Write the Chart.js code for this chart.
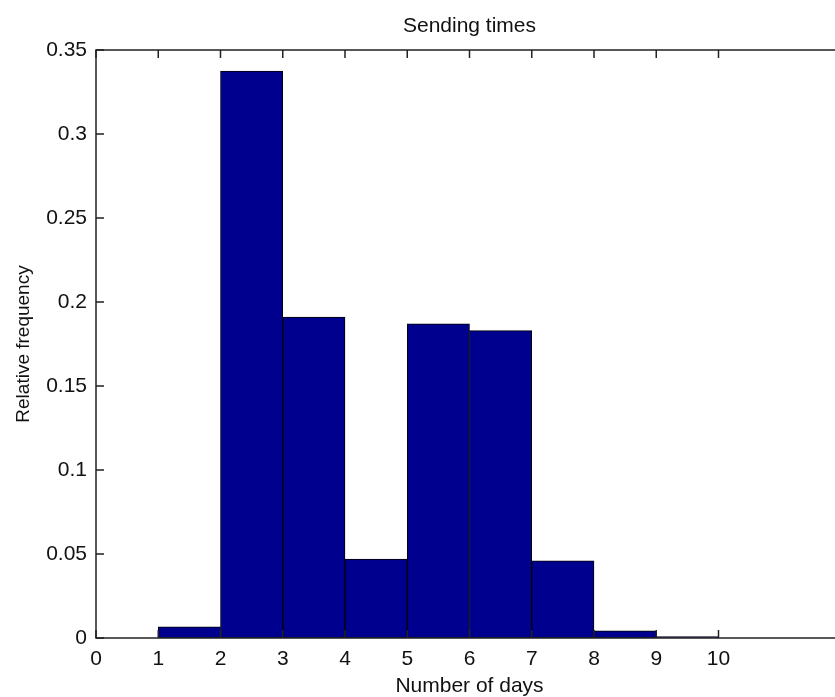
<!DOCTYPE html>
<html>
<head>
<meta charset="utf-8">
<script src="https://cdn.jsdelivr.net/npm/chart.js@4/dist/chart.umd.min.js"></script>
<style>
    html, body { margin: 0; padding: 0; background: #fff; overflow: hidden; }
    #histChart { display: block; }
</style>
</head>
<body>
<canvas id="histChart" width="845" height="697"></canvas>
<script>
// Histogram bins (left edge of each one-day bin) and relative frequency
const binStarts = [1, 2, 3, 4, 5, 6, 7, 8, 9];
const relFreq = [0.0067, 0.3375, 0.191, 0.047, 0.187, 0.183, 0.046, 0.0043, 0.0008];

// Axis ticks
const xTickValues = [0, 1, 2, 3, 4, 5, 6, 7, 8, 9, 10];
const yTickValues = [0, 0.05, 0.1, 0.15, 0.2, 0.25, 0.3, 0.35];
const yTickLabels = ['0', '0.05', '0.1', '0.15', '0.2', '0.25', '0.3', '0.35'];

const fontFamily = '"Liberation Sans", Arial, sans-serif';
const axisColor = '#222';
const tickLen = 8;

// Function to draw the MATLAB style box with inward tick marks
const axesBox = {
    id: 'axesBox',
    afterDraw(chart) {
        const ctx = chart.ctx;
        const area = chart.chartArea;
        const xs = chart.scales.x;
        const ys = chart.scales.y;
        ctx.save();
        ctx.strokeStyle = axisColor;
        ctx.lineWidth = 1.5;
        ctx.strokeRect(area.left, area.top, area.right - area.left, area.bottom - area.top);
        ctx.beginPath();
        xTickValues.forEach((v) => {
            const px = xs.getPixelForValue(v);
            ctx.moveTo(px, area.bottom);
            ctx.lineTo(px, area.bottom - tickLen);
            ctx.moveTo(px, area.top);
            ctx.lineTo(px, area.top + tickLen);
        });
        yTickValues.forEach((v) => {
            const py = ys.getPixelForValue(v);
            ctx.moveTo(area.left, py);
            ctx.lineTo(area.left + tickLen, py);
            ctx.moveTo(area.right, py);
            ctx.lineTo(area.right - tickLen, py);
        });
        ctx.stroke();
        ctx.restore();
    }
};

function initChart() {
    const ctx = document.getElementById('histChart').getContext('2d');
    new Chart(ctx, {
        type: 'bar',
        data: {
            datasets: [{
                label: 'Relative frequency',
                data: binStarts.map((b, i) => ({ x: b + 0.5, y: relFreq[i] })),
                backgroundColor: 'rgb(0, 0, 143)',
                borderColor: '#000',
                borderWidth: 1,
                borderSkipped: false,
                barPercentage: 1,
                categoryPercentage: 1,
                grouped: false
            }]
        },
        options: {
            responsive: false,
            animation: false,
            layout: { padding: { left: 0, right: 2, top: 0, bottom: 0 } },
            plugins: {
                legend: { display: false },
                tooltip: { enabled: false },
                title: { display: false }
            },
            scales: {
                x: {
                    type: 'linear',
                    position: 'bottom',
                    min: 0,
                    max: 12,
                    offset: false,
                    grid: { display: false, drawTicks: false },
                    border: { display: false },
                    afterBuildTicks: (scale) => {
                        scale.ticks = xTickValues.map((v) => ({ value: v }));
                    },
                    afterFit: (scale) => { scale.height = 59; },
                    ticks: {
                        autoSkip: false,
                        maxRotation: 0,
                        padding: 9,
                        color: '#111',
                        font: { family: fontFamily, size: 21 },
                        callback: (v) => String(v)
                    },
                    title: {
                        display: true,
                        text: 'Number of days',
                        color: '#111',
                        font: { family: fontFamily, size: 21, lineHeight: 1 },
                        padding: { top: 0, bottom: 0 }
                    }
                },
                xTop: {
                    type: 'linear',
                    position: 'top',
                    min: 0,
                    max: 12,
                    grid: { display: false, drawTicks: false },
                    border: { display: false },
                    ticks: { display: false },
                    afterFit: (scale) => { scale.height = 50; },
                    title: {
                        display: true,
                        text: 'Sending times',
                        color: '#111',
                        font: { family: fontFamily, size: 21, lineHeight: 1.2 },
                        padding: { top: 14, bottom: 0 }
                    }
                },
                y: {
                    type: 'linear',
                    min: 0,
                    max: 0.35,
                    grid: { display: false, drawTicks: false },
                    border: { display: false },
                    afterBuildTicks: (scale) => {
                        scale.ticks = yTickValues.map((v) => ({ value: v }));
                    },
                    afterFit: (scale) => { scale.width = 96; },
                    ticks: {
                        autoSkip: false,
                        padding: 9,
                        color: '#111',
                        font: { family: fontFamily, size: 21 },
                        callback: (v, i) => yTickLabels[i]
                    },
                    title: {
                        display: true,
                        text: 'Relative frequency',
                        color: '#111',
                        font: { family: fontFamily, size: 19, lineHeight: 1.2 },
                        padding: { top: 12, bottom: 0 }
                    }
                }
            }
        },
        plugins: [axesBox]
    });
}

window.onload = initChart;
</script>
</body>
</html>
